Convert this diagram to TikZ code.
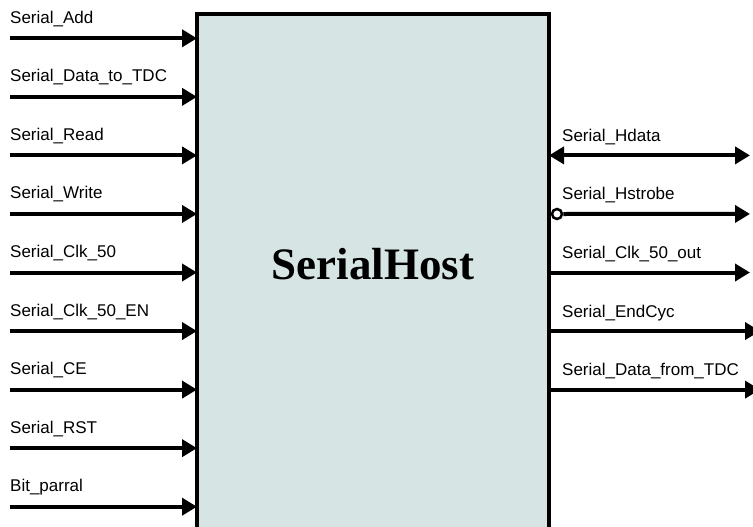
\documentclass[tikz,border=0pt]{standalone}
\usepackage{fontspec}
\setmainfont{Liberation Sans}
\newfontfamily\titlefont{Liberation Serif}
\usetikzlibrary{arrows.meta}
\definecolor{boxfill}{RGB}{214,228,228}
\begin{document}
\begin{tikzpicture}[x=1pt,y=-1pt,
  sig/.style={line width=4pt, -{Triangle[length=15pt,width=17pt]}},
  bisig/.style={line width=4pt, {Triangle[length=15pt,width=17pt]}-{Triangle[length=15pt,width=17pt]}},
  lbl/.style={anchor=base west, inner sep=0pt, font=\fontsize{17}{20}\selectfont},
  hostbox/.style={draw, line width=3.5pt, fill=boxfill, outer sep=0pt, inner sep=0pt, anchor=north west},
  bubble/.style={circle, draw, fill=white, line width=2.5pt, minimum size=10pt, inner sep=0pt}]
\useasboundingbox (0,0) rectangle (753,527);
\clip (0,0) rectangle (753,527);
\node[hostbox, minimum width=352pt, minimum height=560pt] (host) at (197,14) {};
\node[font=\titlefont\bfseries\fontsize{45}{50}\selectfont] (title) at (373,264) {SerialHost};
% inputs
\foreach \name [count=\i] in {Serial\_Add,Serial\_Data\_to\_TDC,Serial\_Read,Serial\_Write,Serial\_Clk\_50,Serial\_Clk\_50\_EN,Serial\_CE,Serial\_RST,Bit\_parral}{
  \pgfmathsetmacro{\yy}{38.3+58.55*(\i-1)}
  \coordinate (in\i) at (10,\yy);
  \coordinate (pin\i) at (197,\yy);
  \node[lbl] (inlbl\i) at (10,\yy-15) {\name};
  \draw[sig] (in\i) -- (pin\i);
}
% outputs
\foreach \name/\tip [count=\i] in {Serial\_Hdata/750,Serial\_Hstrobe/750,Serial\_Clk\_50\_out/750,Serial\_EndCyc/760,Serial\_Data\_from\_TDC/760}{
  \pgfmathsetmacro{\yy}{38.3+58.55*(\i+1)}
  \coordinate (pout\i) at (549,\yy);
  \coordinate (out\i) at (\tip,\yy);
  \node[lbl] (outlbl\i) at (562,\yy-14) {\name};
}
\draw[bisig] (pout1) -- (out1);
\node[bubble] (strobe) at (557,155.45+58.55) {};
\draw[sig] (strobe.east) -- (out2);
\draw[sig] (pout3) -- (out3);
\draw[sig] (pout4) -- (out4);
\draw[sig] (pout5) -- (out5);
\end{tikzpicture}
\end{document}
